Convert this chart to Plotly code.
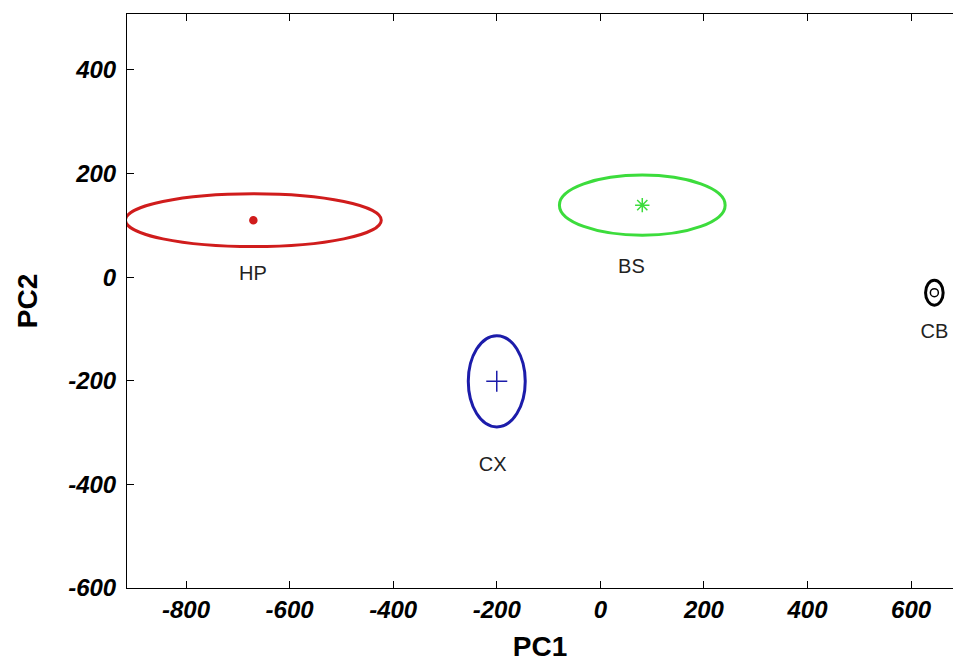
import plotly.graph_objects as go

# Group scores on the first two principal components
groups = ["HP", "BS", "CX", "CB"]
center_pc1 = [-670, 81, -200, 645]
center_pc2 = [110, 139, -201, -30]
spread_pc1 = [247, 160, 55, 17]
spread_pc2 = [51, 58, 88, 24]
label_pc1 = [-671, 60, -208, 645]
label_pc2 = [4, 17, -365, -108]

colors = ["#d01c1c", "#3cdc3c", "#1c1caa", "#000000"]
symbols = ["circle", "asterisk-open", "cross-thin-open", "circle-open"]
marker_sizes = [7, 12, 15, 8]

x_ticks = [-800, -600, -400, -200, 0, 200, 400, 600]
x_tick_labels = ["-800", "-600", "-400", "-200", "0", "200", "400", "600"]
y_ticks = [-600, -400, -200, 0, 200, 400]
y_tick_labels = ["-600", "-400", "-200", "0", "200", "400"]

FONT = "Arial, Liberation Sans, sans-serif"

fig = go.Figure()

# confidence ellipses around each group centre
for cx, cy, rx, ry, col in zip(center_pc1, center_pc2, spread_pc1, spread_pc2, colors):
    fig.add_shape(
        type="circle", xref="x", yref="y",
        x0=cx - rx, x1=cx + rx, y0=cy - ry, y1=cy + ry,
        line=dict(color=col, width=3),
    )

# group centres
for g, cx, cy, col, sym, ms in zip(groups, center_pc1, center_pc2, colors, symbols, marker_sizes):
    fig.add_trace(go.Scatter(
        x=[cx], y=[cy], mode="markers", name=g,
        marker=dict(symbol=sym, size=ms, color=col, line=dict(color=col, width=1.5)),
        showlegend=False, hoverinfo="skip",
    ))

# group names
fig.add_trace(go.Scatter(
    x=label_pc1, y=label_pc2, mode="text", text=groups,
    textfont=dict(family=FONT, size=20, color="#222222"),
    showlegend=False, hoverinfo="skip",
))

axis_common = dict(
    showgrid=False, zeroline=False,
    showline=True, linecolor="black", linewidth=1,
    ticks="inside", ticklen=7, tickwidth=1, tickcolor="black",
    tickfont=dict(family=FONT, size=24, color="black", weight="bold", style="italic"),
)

fig.update_layout(
    width=953, height=664,
    margin=dict(l=127, r=0, t=14, b=76),
    plot_bgcolor="white", paper_bgcolor="white",
    xaxis=dict(
        range=[-914, 681], tickmode="array", tickvals=x_ticks, ticktext=x_tick_labels,
        mirror="ticks", ticklabelstandoff=0,
        title=dict(text="PC1", font=dict(family=FONT, size=28, color="black", weight="bold"), standoff=14),
        **axis_common,
    ),
    yaxis=dict(
        range=[-600, 508], tickmode="array", tickvals=y_ticks, ticktext=y_tick_labels,
        mirror=False, ticklabelstandoff=5,
        title=dict(text="PC2", font=dict(family=FONT, size=28, color="black", weight="bold"), standoff=22),
        **axis_common,
    ),
)

fig.write_html("out.html")
